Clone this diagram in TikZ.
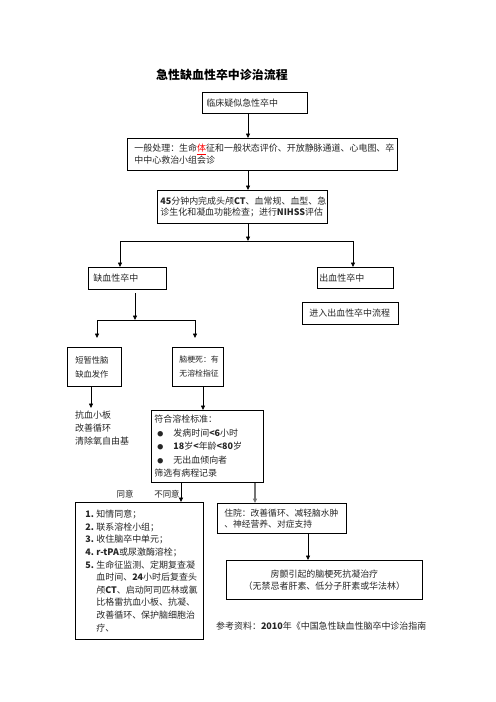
\documentclass[tikz,border=0pt]{standalone}
\usepackage{fontspec}
\setmainfont{Noto Sans CJK SC}
\usetikzlibrary{arrows.meta}
\newcommand\blt{\hspace*{3bp}\makebox[16bp][l]{\fontsize{6}{6}\selectfont ●}}
\newcommand\itm[1]{\makebox[11bp][l]{#1}}
\begin{document}
\begin{tikzpicture}[x=1bp,y=-1bp,
  box/.style={draw, line width=0.8bp, rectangle, anchor=north west, inner ysep=0pt, align=left,
    text=black!85, font=\fontsize{9}{12}\selectfont},
  plain/.style={text=black!85, font=\fontsize{9}{12}\selectfont, inner sep=0pt},
  arr/.style={line width=0.8bp, -{Triangle[length=4.5bp,width=4bp]}},
  ln/.style={line width=0.8bp}]
\useasboundingbox (0,0) rectangle (496,702);
\fill[white] (0,0) rectangle (496,702);

\node[font=\fontsize{12}{14}\selectfont\bfseries, inner sep=0pt] (title) at (222,75) {急性缺血性卒中诊治流程};

\node[box, inner xsep=4bp, text width=97bp, minimum height=21bp] (b1) at (202,92) {临床疑似急性卒中};
\node[box, inner xsep=7bp, text width=256bp, minimum height=32bp] (b2) at (127,138)
  {一般处理：生命\textcolor{red}{\underline{体}}征和一般状态评价、开放静脉通道、心电图、卒\\中中心救治小组会诊};
\node[box, inner xsep=3bp, text width=164bp, minimum height=33bp] (b3) at (157,190)
  {\textbf{45}分钟内完成头颅\textbf{CT}、血常规、血型、急\\诊生化和凝血功能检查；进行\textbf{NIHSS}评估};
\node[box, inner xsep=5bp, text width=68bp, minimum height=22bp] (b4) at (88,267) {缺血性卒中};
\node[box, inner xsep=2bp, text width=72bp, minimum height=21bp] (b5) at (317,267) {出血性卒中};
\node[box, inner xsep=7bp, text width=82bp, minimum height=22bp] (b6) at (302,302) {进入出血性卒中流程};
\node[box, inner xsep=8bp, text width=38bp, minimum height=39bp, font=\fontsize{8.3}{14}\selectfont] (b7) at (67,347) {短暂性脑\\缺血发作};
\node[box, inner xsep=7bp, text width=37bp, minimum height=39bp, font=\fontsize{7.9}{14}\selectfont] (b8) at (172,347) {脑梗死：有\\无溶栓指征};
\node[plain, anchor=north west, align=left, font=\fontsize{9}{13}\selectfont, inner xsep=2bp, inner ysep=3bp] (t1) at (73,408)
  {抗血小板\\改善循环\\清除氧自由基};
\node[box, inner xsep=3bp, text width=106bp, minimum height=72bp, font=\fontsize{9}{13.5}\selectfont] (b9) at (151,410)
  {符合溶栓标准：\\\blt 发病时间\textbf{<6}小时\\\blt \textbf{18}岁\textbf{<}年龄\textbf{<80}岁\\\blt 无出血倾向者\\筛选有病程记录};
\node[plain, font=\fontsize{8.5}{10}\selectfont] (l1) at (125,494) {同意};
\node[plain, font=\fontsize{8.5}{10}\selectfont] (l2) at (167,494) {不同意};
\node[box, inner xsep=10bp, text width=108bp, minimum height=137bp, font=\fontsize{9}{12.7}\selectfont] (b10) at (75,502)
  {\itm{\textbf{1.}}知情同意；\\
   \itm{\textbf{2.}}联系溶栓小组；\\
   \itm{\textbf{3.}}收住脑卒中单元；\\
   \itm{\textbf{4.}}\textbf{r-tPA}或尿激酶溶栓；\\
   \itm{\textbf{5.}}生命征监测、定期复查凝\\
   \itm{}血时间、\textbf{24}小时后复查头\\
   \itm{}颅\textbf{CT}、启动阿司匹林或氯\\
   \itm{}比格雷抗血小板、抗凝、\\
   \itm{}改善循环、保护脑细胞治\\
   \itm{}疗、};
\node[box, inner xsep=7bp, text width=115bp, minimum height=30bp, font=\fontsize{8.8}{11.5}\selectfont] (b11) at (217,503)
  {住院：改善循环、减轻脑水肿\\、神经营养、对症支持};
\node[box, align=center, inner xsep=4bp, text width=188bp, minimum height=39bp] (b12) at (226,560)
  {房颤引起的脑梗死抗凝治疗\\（无禁忌者肝素、低分子肝素或华法林）};
\node[plain, anchor=west] (ref) at (216,626) {参考资料：\textbf{2010}年《中国急性缺血性脑卒中诊治指南};

% coordinates
\coordinate (xa) at (248,0);
\coordinate (hl) at (248,241);
\coordinate (hL) at (120,241);
\coordinate (hR) at (353,241);
\coordinate (s1) at (135,293);
\coordinate (j1) at (135,320);
\coordinate (jL) at (97,320);
\coordinate (jR) at (195,320);
\coordinate (eL) at (97,338);
\coordinate (eR) at (195,338);
\coordinate (x91) at (91,0);
\coordinate (x203) at (203,0);
\coordinate (x181) at (181,0);
\coordinate (x255) at (255,0);
\coordinate (x308) at (308,0);

\draw[arr] (b1.south -| xa) -- (b2.north -| xa);
\draw[arr] (b2.south -| xa) -- (b3.north -| xa);
\draw[arr] (b3.south -| xa) -- (hl);
\draw[ln] (hL) -- (hR);
\draw[arr] (hL) -- (b4.north -| hL);
\draw[arr] (hR) -- (b5.north -| hR);
\draw[arr] (s1) -- (j1);
\draw[ln] (jL) -- (jR);
\draw[arr] (jL) -- (eL);
\draw[arr] (jR) -- (eR);
\draw[arr] (b7.south -| x91) -- (t1.north -| x91);
\draw[arr] (b8.south -| x203) -- (b9.north -| x203);
\draw[arr] (b9.south -| x181) -- (b10.north -| x181);
\draw[arr, line width=1.2bp, draw=black!55, fill=black!55] (b9.south -| x255) -- (b11.north -| x255);
\draw[arr] (b11.south -| x308) -- (b12.north -| x308);
\end{tikzpicture}
\end{document}
